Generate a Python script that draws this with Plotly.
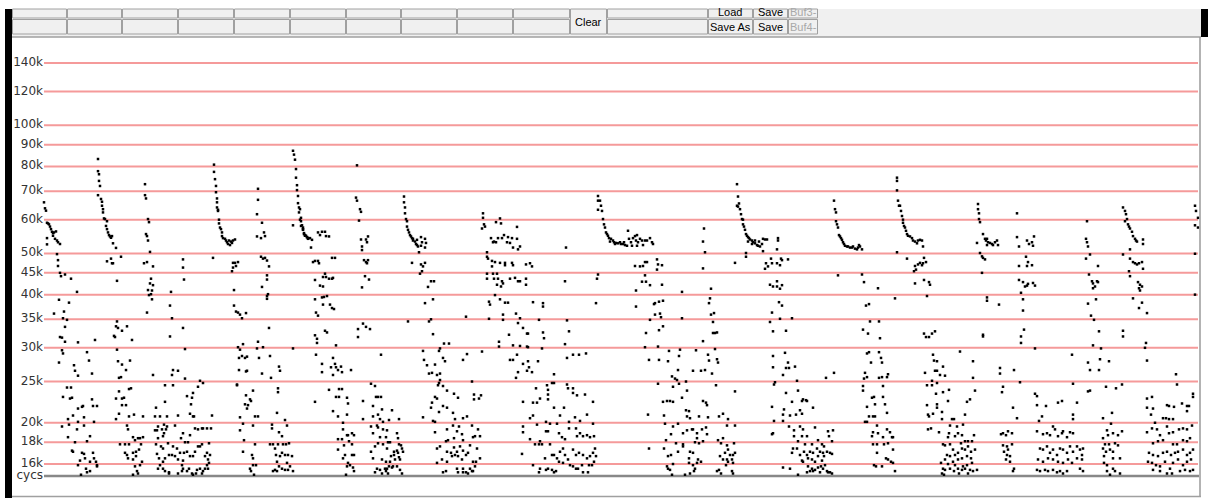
import plotly.graph_objects as go

# ---------------- data: (sample index, cycles in thousands) ----------------
burst01 = [(44,65.9),(45,63.8),(46,63.0),(47,59.0),(48,58.8),(49,58.5),(50,57.8),(51,57.0),(52,56.2),(53,55.8),(53,55.0),(54,56.0),(55,54.1),(56,56.3),(57,53.6),(58,53.1),(60,52.6),(47,54.3),(47,52.5),
 (57,49.8),(58,48.2),(58,46.7),(60,45.0),(61,44.2),(65,44.6),(71,43.6),(77,40.6),(59,38.9),(69,38.3),(54,36.1),(64,36.5),(63,35.2),(67,34.9),(65,33.6),(60,31.8),(62,31.7),(65,31.0),(78,30.9),(62,29.6),(63,29.1),(59,27.7),(74,27.3),(75,26.5),(78,25.8),(87,29.3),(89,28.0),(92,26.1),(95,31.3),
 (67,24.2),(71,24.2),(63,23.0),(70,22.8),(72,22.9),(78,21.6),(82,21.8),(83,21.9),(73,20.8),(68,20.4),(69,19.8),(78,20.1),(84,20.6),(62,19.6),(77,19.3),(84,19.7),(68,18.5),(75,18.0),(87,18.1),(90,18.6),(92,22.7),(93,21.9),(97,21.9),(94,20.1),
 (72,17.2),(73,17.1),(82,17.0),(84,16.9),(93,17.0),(78,15.9),(80,16.3),(85,16.5),(90,16.2),(96,16.2),(97,15.8),(81,15.1),(86,15.6),(87,15.3),(90,15.4),(94,16.5),(97,15.9)]

burst02 = [(98,83.3),(98,78.0),(99,76.7),(99,74.0),(100,72.0),(98,68.5),(101,67.1),(102,66.1),(102,64.7),(103,63.5),(103,62.4),(104,60.4),(105,60.2),(107,59.5),(106,58.0),(107,57.0),(108,56.0),(109,55.2),(110,54.8),(111,54.4),(112,54.9),(113,52.8),(116,51.5),
 (107,47.9),(111,48.6),(112,47.4),(113,47.4),(121,49.1),(117,43.1),(117,34.6),(116,33.7),(118,33.4),(114,32.0),(115,31.8),(122,32.9),(127,33.7),(132,31.3),(117,29.7),(118,27.9),(122,27.4),(126,26.6),(130,28.0),(121,25.6),(119,25.5),
 (116,22.8),(122,22.8),(124,22.9),(119,23.7),(129,24.0),(131,24.1),(122,22.0),(126,22.0),(119,21.0),(116,20.4),(129,20.7),(134,20.9),(127,19.7),(128,19.3),(133,18.5),(135,18.2),(138,18.4),(140,18.4),(143,18.5),(120,17.8),(125,17.8),(129,17.8),
 (125,17.0),(127,16.8),(128,16.5),(133,17.0),(136,17.1),(139,17.3),(141,17.8),(133,16.4),(136,16.7),(142,16.2),(135,15.8),(140,15.9),(133,15.1),(137,15.4),(138,15.2),(143,20.7)]

burst03 = [(145,72.7),(145,68.5),(146,67.3),(148,60.2),(149,59.2),(146,55.5),(147,54.9),(148,53.6),(150,50.4),(144,47.4),(147,47.7),(153,46.6),(151,43.6),(150,42.5),(153,42.1),(148,41.0),(152,40.9),(149,39.9),(151,40.1),(152,39.0),(147,36.3),(153,25.9),
 (155,20.7),(156,21.7),(160,20.7),(158,19.6),(164,19.8),(165,22.4),(167,20.7),(155,19.2),(157,19.2),(162,19.3),(163,18.6),(164,18.9),(166,19.3),(167,19.6),(158,18.4),(161,17.6),(156,17.8),(157,16.9),(159,16.5),(163,17.4),(168,17.9),(169,16.8),
 (163,16.2),(165,16.5),(160,15.9),(158,15.6),(163,15.6),(165,15.4),(169,15.2),(172,16.8),
 (171,40.6),(170,37.7),(172,35.2),(170,31.9),(172,25.9),(173,26.6),(178,26.5),(165,24.5),(173,24.5),(183,48.4),(183,46.3),(184,43.4),(183,33.4),(185,29.8),(185,25.4),(187,23.1),(192,22.9),(193,23.5),(191,22.1),(190,21.0),(193,20.7),(194,20.7),(198,24.3),(200,25.1),(203,24.8),
 (175,19.7),(178,20.8),(181,18.4),(183,18.9),(185,18.0),(188,18.0),(190,18.7),(173,17.6),(177,17.4),(180,17.0),(184,17.0),(187,17.1),(190,16.7),(193,16.7),(195,17.1),(198,17.6),(200,17.6),(202,17.8),
 (175,16.7),(178,16.4),(182,15.9),(183,16.3),(187,15.4),(189,15.6),(192,15.2),(193,15.1),(196,15.2),(197,15.5),(200,15.6),(202,15.2),(203,15.4),(205,15.6),(207,15.9),(208,16.4),(210,16.8),(209,16.1),(178,15.2),(182,15.4),(183,15.6),(169,15.3),
 (195,19.4),(198,19.3),(202,19.4),(203,19.4),(207,19.4),(212,20.8),(211,19.4),(205,16.7),(207,17.0),(209,17.9),(208,15.6)]

burst04 = [(214,80.8),(214,77.7),(215,74.7),(216,72.0),(216,69.6),(217,67.3),(217,65.9),(217,64.1),(218,63.3),(218,62.9),(219,60.0),(219,58.8),(220,57.5),(221,57.0),(222,56.0),(222,54.9),(223,54.3),(225,54.1),(226,53.6),(227,53.1),(228,52.6),(230,52.3),(232,52.9),(233,53.6),(235,53.9),(229,53.6),(231,53.3),
 (213,48.8),(233,47.5),(235,47.5),(238,47.7),(233,46.3),(236,46.7),(232,45.4),(234,41.0),(234,37.7),(236,36.5),(238,36.3),(240,35.9),(242,35.2),(246,36.2),(238,30.1),(240,29.7),(243,30.6),(239,28.4),(242,28.7),(245,28.4),(247,28.6),(239,26.6),(247,26.5),(246,26.4),
 (237,24.6),(237,24.5),(246,23.2),(250,22.7),(251,22.5),(245,22.1),(248,22.0),(253,23.8),(247,21.6),(240,20.6),(243,19.9),(240,19.2),(244,18.2),(255,20.7),(258,20.7),(253,19.7),(255,17.8),(243,17.1),(252,16.8),(253,16.5),(253,15.9),(256,15.9),(250,15.6),(251,15.4),(254,15.1),
 (258,70.9),(258,66.8),(257,61.8),(262,59.0),(257,54.8),(261,54.3),(264,56.0),(265,54.9),(261,49.1),(263,48.6),(265,48.8),(267,48.1),(269,46.6),(267,44.4),(267,43.4),(262,41.7),(268,40.1),(267,39.7),(267,39.1),(269,33.4),(258,31.0),(263,30.1),(257,29.9),(259,28.4),(262,26.1),(270,28.7),(271,25.5),(279,27.1),(280,26.5),
 (278,24.1),(278,23.6),(277,21.1),(272,19.8),(272,19.4),(279,19.0),(282,18.6),(285,20.3),(287,19.7),(270,17.8),(273,17.8),(275,17.4),(278,17.8),(283,17.8),(286,17.8),(289,17.9),(276,16.8),(280,16.7),(282,17.0),(285,16.8),(288,16.8),(292,16.7),
 (277,16.2),(279,15.8),(282,15.6),(287,16.1),(290,15.8),(273,15.4),(275,15.5),(277,15.4),(285,15.5),(288,15.5),(293,15.4)]

burst05 = [(293,87.1),(294,85.3),(295,83.0),(296,78.9),(296,75.3),(297,72.3),(297,70.4),(298,68.2),(298,65.6),(299,64.1),(299,62.4),(301,60.6),(301,59.5),(302,58.2),(303,57.5),(303,56.8),(304,55.8),(305,55.2),(306,55.0),(307,54.6),(308,54.3),(293,58.2),(293,29.9),
 (300,63.5),(300,60.0),(301,58.0),(303,57.0),(304,55.5),(305,55.0),(307,54.6),(308,54.1),(310,54.3),(312,53.8),(311,51.6),(318,56.0),(320,55.2),(322,56.2),(325,56.2),(326,54.9),(329,54.8),
 (313,47.7),(315,48.0),(318,48.0),(319,47.4),(332,48.8),(335,48.8),(315,43.3),(320,42.0),(323,41.8),(325,44.8),(323,44.0),(326,44.0),(329,43.6),(332,43.6),(333,43.8),(315,39.0),(322,39.4),(324,39.5),(327,39.7),(323,37.9),(330,37.9),(332,37.2),(334,37.0),(316,36.3),(318,35.7),
 (315,32.1),(317,31.5),(317,30.8),(325,32.9),(327,32.6),(336,30.4),(316,28.9),(322,27.5),(322,26.3),(333,28.4),(335,27.5),(336,27.0),(331,27.0),(333,25.9),(338,26.6),(341,27.1),(342,26.3),(351,26.6),
 (315,22.4),(329,23.9),(336,23.0),(339,24.0),(342,24.0),(339,23.0),(347,22.9),(348,22.2),(333,21.3),(338,20.7),(347,20.9),(343,20.0),(343,19.3),(347,18.7),(338,18.3),(342,18.3),(348,18.7),(352,18.9),(354,18.7),(349,18.1),(352,17.8),(344,17.7),(338,17.3),
 (343,16.5),(345,16.8),(352,16.8),(354,16.8),(348,16.1),(350,15.9),(347,15.8),(353,15.7),(346,15.1),(354,15.4)]

burst06 = [(357,80.5),(356,67.6),(357,66.5),(360,63.5),(361,62.6),(359,59.7),(361,53.9),(366,53.9),(368,54.8),(362,51.9),(362,50.9),(367,53.1),(364,48.2),(366,47.7),(368,48.2),(367,47.4),(365,44.2),(369,43.4),(362,41.6),(363,34.2),(366,33.6),(358,33.2),(370,33.2),(358,31.8),(381,28.9),
 (371,24.7),(375,24.4),(363,22.5),(376,23.0),(378,23.0),(381,23.0),(373,21.9),(382,21.5),(373,20.7),(378,20.9),(380,20.4),(363,20.4),(383,20.1),(392,21.4),(389,20.3),(399,20.4),(371,19.6),(377,19.7),(378,19.5),(383,19.3),(387,19.2),(373,18.9),(380,18.5),(386,18.5),(397,18.9),(398,18.4),
 (378,17.9),(388,18.0),(390,18.0),(399,17.8),(401,17.7),(371,17.1),(375,17.6),(383,17.8),(387,17.4),(394,17.1),(397,17.2),(402,17.4),(403,17.1),(391,16.7),(394,16.8),(398,17.0),(399,16.6),(373,16.5),(382,16.4),(386,16.2),(390,16.2),(395,16.4),(400,16.4),
 (377,15.6),(380,15.5),(375,15.3),(382,15.2),(386,15.4),(387,15.6),(389,15.8),(392,15.7),(393,15.8),(397,15.8),(400,15.5),(402,15.2),(388,15.2),(385,15.6)]

burst07 = [(404,68.0),(404,65.9),(405,64.1),(405,62.1),(406,60.2),(407,59.5),(407,57.8),(408,56.8),(409,56.0),(410,55.2),(411,54.8),(412,54.3),(413,53.6),(413,54.1),(415,53.3),(416,52.6),(417,52.3),(418,51.9),(421,54.6),(421,52.1),(417,53.8),(419,50.3),(422,53.1),(425,54.1),(426,52.9),(425,51.6),
 (412,47.5),(421,47.1),(422,45.4),(423,46.6),(425,47.5),(420,44.8),(428,41.7),(431,43.0),(434,43.0),(425,38.2),(433,39.0),(408,34.6),(429,34.6),(431,35.0),(433,32.3),(423,29.5),(424,28.1),(427,27.3),(429,26.1),(432,26.2),(435,27.4),(437,25.9),(440,25.2),(440,26.1),(439,29.5),(440,29.9),(444,30.7),(449,30.7),(443,28.4),(445,27.9),
 (438,24.5),(439,24.8),(443,24.4),(447,23.8),(454,23.4),(458,22.9),(435,23.0),(437,22.8),(432,22.3),(443,21.9),(439,21.2),(447,21.7),(431,21.7),(423,20.6),(433,20.2),(435,20.1),(453,21.1),(455,20.4),(463,20.5),(467,20.7),
 (435,19.0),(447,19.3),(453,19.7),(459,19.6),(457,19.1),(462,18.8),(472,19.7),(446,18.1),(448,18.2),(454,18.4),(463,18.2),(473,18.5),(475,18.6),(480,18.6),(478,19.3),
 (437,17.4),(440,17.6),(447,17.1),(451,17.0),(454,17.5),(457,17.1),(460,17.6),(463,17.2),(468,17.0),(470,17.7),(477,17.4),(442,16.4),(447,16.2),(452,16.7),(455,16.8),(458,16.7),(462,16.4),(466,16.8),(473,16.2),(476,16.2),(480,16.5),
 (437,16.1),(457,15.6),(463,15.6),(466,15.3),(470,15.6),(472,15.4),(475,15.8),(443,15.3),(446,15.4),(458,15.3),(468,15.2),(473,15.4),(463,15.3),
 (466,35.5),(463,28.1),(467,29.0),(472,25.0),(474,23.3),(474,22.7),(479,22.8),(481,23.2),(482,29.4)]

burst08 = [(483,62.1),(483,60.6),(484,58.5),(482,57.2),(485,57.8),(496,59.2),(500,60.4),(501,58.8),(517,57.7),(491,54.3),(493,53.1),(494,53.3),(496,53.1),(498,54.3),(502,54.3),(504,55.2),(508,54.6),(512,54.3),(517,54.1),(507,53.1),(510,52.9),(513,51.6),(518,51.1),(520,51.9),
 (487,50.3),(487,49.1),(488,48.6),(492,48.0),(492,46.6),(495,47.7),(500,47.5),(505,47.5),(505,46.9),(512,47.5),(513,46.9),(526,47.1),(530,47.4),(532,46.6),(487,44.8),(487,43.6),(493,44.8),(497,44.8),(494,43.6),(498,43.6),(502,43.0),(503,42.5),(497,42.2),(501,41.8),(510,43.6),(515,43.8),(518,43.0),(520,43.0),(526,43.6),(526,42.2),
 (495,39.9),(489,38.5),(490,37.9),(500,39.0),(505,38.3),(508,38.3),(533,38.4),(543,38.2),(543,37.5),(503,35.9),(503,34.9),(489,35.1),(516,36.1),(518,34.3),(520,35.2),(523,33.4),(509,32.2),(527,32.4),(528,32.4),(499,31.0),(499,30.2),(513,30.4),(520,30.3),(527,30.2),(528,30.1),
 (539,34.9),(543,32.6),(544,31.6),(542,29.9),(510,28.1),(513,28.1),(517,28.9),(523,27.5),(528,27.9),(529,27.0),(532,26.3),(527,26.5),(538,27.9),(518,26.3),(516,25.5),(554,26.0),
 (566,51.6),(565,43.0),(567,34.8),(569,32.8),(565,30.6),(567,28.4),(573,28.9),(579,28.9),(586,29.1),
 (523,22.4),(533,22.3),(537,22.3),(536,24.1),(540,22.8),(547,24.5),(548,23.9),(548,23.3),(552,24.8),(554,24.8),(548,22.7),(530,20.5),(533,20.8),(523,19.6),(523,19.0),(537,19.8),(546,20.1),(550,19.9),(554,21.7),(560,20.8),(564,21.7),
 (567,24.6),(568,24.1),(573,24.1),(573,23.5),(577,23.2),(585,23.3),(569,20.1),(575,20.6),(580,20.2),(587,20.9),(593,19.9),(593,22.4),
 (530,18.3),(535,17.8),(540,18.1),(542,17.8),(546,19.1),(548,19.1),(550,17.8),(557,19.9),(559,18.9),(562,18.5),(565,18.3),(569,19.4),(576,19.4),(577,18.6),(580,18.9),(583,18.6),(587,18.7),(590,18.5),(594,18.6),
 (522,16.9),(539,17.8),(545,16.5),(552,16.8),(554,16.8),(557,16.5),(560,17.1),(563,17.4),(565,16.8),(573,17.3),(576,16.8),(579,17.0),(583,16.8),(587,16.5),(590,16.7),(593,17.0),(595,17.4),
 (533,15.9),(540,15.6),(539,15.3),(546,15.5),(548,15.6),(552,15.5),(554,15.3),(556,15.4),(559,16.2),(563,16.1),(568,16.4),(573,15.8),(576,15.6),(578,15.6),(582,15.9),(583,15.3),(588,15.3),(589,15.9),(592,15.9),(594,16.2),(596,16.7),(570,15.9),
 (598,68.2),(598,66.5),(598,63.3),(598,44.6),(597,43.6),(596,38.2)]

burst09 = [(600,66.5),(601,64.7),(602,62.9),(603,60.2),(604,58.5),(605,57.5),(606,56.0),(607,55.5),(608,55.0),(609,54.3),(611,54.1),(613,53.6),(614,53.1),(616,52.9),(618,52.8),(621,52.6),(623,52.6),(625,52.3),(627,52.1),(628,56.5),(629,54.1),(631,53.1),(632,52.1),(633,54.3),(635,54.9),(636,53.6),(637,55.2),(638,53.1),(640,54.1),(642,53.6),(643,52.3),(645,53.6),(647,53.6),(650,54.3),(652,53.1),(653,52.6),(637,52.1),(610,53.3),(615,52.6),(620,53.1),(624,53.1),
 (635,46.7),(640,46.6),(643,46.7),(645,47.7),(647,47.7),(657,48.4),(658,47.1),(662,46.9),(657,45.8),(645,44.4),(642,42.9),(646,42.9),(650,42.1),(662,42.2),(636,40.9),(636,37.5),(654,38.0),(655,38.2),(659,38.5),(663,38.7),(655,35.9),(660,36.1),(661,35.4),(650,34.9),(663,33.7),(659,33.0),(682,40.6),(682,35.2),
 (646,32.5),(645,30.1),(649,28.1),(658,30.2),(659,28.1),(669,29.5),(668,27.9),(680,29.7),(679,28.7),(678,26.6),(672,25.7),(675,25.4),(677,25.2),(673,24.3),(679,24.7),(686,25.0),(658,24.7),(687,23.8),(682,22.9),(663,22.4),(667,22.5),(670,22.5),(673,22.4),
 (686,21.4),(689,21.3),(687,20.7),(648,20.9),(664,20.8),(690,20.5),(678,19.9),(673,19.6),(665,19.9),(687,19.2),(692,19.3),(693,19.3),(697,18.9),(671,18.8),(683,18.9),(697,18.4),(666,18.2),(676,17.9),(683,17.8),(695,18.0),(699,17.9),
 (678,17.1),(690,17.1),(664,17.4),(683,17.6),(693,17.0),(668,16.7),(671,16.8),(649,17.4),(689,16.5),(698,16.4),(697,16.1),(701,16.2),(673,16.0),(667,15.8),(668,15.6),(670,15.5),(689,16.1),(693,15.9),(695,15.6),(694,15.4),(672,15.1),(685,15.1),(690,15.2)]

burst10 = [(704,57.2),(703,53.3),(705,50.3),(703,46.1),(711,41.3),(710,39.2),(709,38.2),(711,35.9),(714,36.2),(713,34.5),(713,32.5),(715,32.5),(717,32.6),(703,31.1),(696,29.6),(715,29.8),(708,28.9),(709,28.0),(717,28.2),(718,27.7),(712,26.1),(701,26.5),(705,26.6),(693,26.5),(716,24.5),
 (703,22.5),(706,22.3),(707,22.0),(708,20.6),(699,20.7),(719,20.7),(723,21.0),(728,20.4),(706,19.5),(702,19.3),(707,18.8),(703,18.1),(727,19.7),(735,19.7),(718,18.2),(723,18.4),(721,17.9),(727,17.7),(734,17.9),
 (725,17.0),(728,17.3),(730,16.8),(733,16.8),(735,17.0),(720,16.7),(723,16.4),(727,16.4),(728,16.2),(732,16.4),(726,15.9),(733,16.1),(719,15.5),(717,15.4),(721,15.2),(732,15.4),(733,15.2),(735,23.7),
 (735,47.5),(737,72.7),(738,68.0),(737,64.7),(738,64.4),(739,65.5),(740,63.5),(741,61.8),(742,60.2),(743,60.0),(743,58.5),(744,57.8),(745,56.8),(746,55.5),(747,55.0),(748,54.6),(749,54.3),(750,53.9),(752,53.6),(753,53.1),(755,52.8),(757,52.3),(758,52.1),(760,51.9),(762,52.6),(763,54.1),(765,53.9),(767,53.9),(763,50.6),(746,50.1),(746,49.1),(748,53.3),(752,52.6),(755,53.6),(759,53.3),(778,54.3),(778,53.6),(777,51.1),
 (765,46.0),(766,47.4),(768,46.6),(771,48.6),(772,47.4),(777,47.4),(781,48.6),(780,46.9),(782,48.2),(788,48.4),(770,42.2),(773,41.8),(777,43.0),(777,41.8),(780,41.3),(782,42.1),(779,38.4),(782,37.7),(772,36.3),(770,34.5),(780,35.1),(792,35.2),(773,32.8),(786,32.9),
 (785,29.2),(788,27.7),(789,26.9),(786,26.9),(795,27.1),(773,28.7),(773,27.0),(783,25.9),(775,24.9),(774,24.6),(797,25.1),(798,23.8),(786,23.5),(792,22.4),(772,21.8),(784,21.5),(783,20.9),(790,20.8),(796,20.9),(802,22.5),(803,22.7),(806,22.6),(800,21.4),(802,21.0),(807,22.5),(813,21.7),
 (774,20.2),(772,18.8),(773,18.9),(783,20.2),(789,19.6),(794,19.2),(800,19.6),(803,19.3),(794,18.6),(798,18.1),(802,18.6),(807,18.6),(812,17.8),(815,19.5),(818,18.2),(822,17.8),(824,17.6),(828,19.1),(833,19.2),(829,18.6),(832,18.1),(805,17.8),
 (792,17.0),(793,17.4),(797,17.4),(800,16.8),(802,16.3),(804,17.1),(807,16.8),(810,17.1),(813,17.0),(817,17.4),(820,17.1),(823,17.0),(824,16.7),(827,17.1),(830,17.0),(832,16.9),(808,16.5),(812,16.4),(815,16.2),(818,16.7),(822,16.3),
 (803,16.2),(808,15.8),(812,15.6),(815,15.5),(818,15.7),(821,15.8),(823,15.6),(825,15.9),(827,15.4),(830,15.3),(832,15.2),(807,15.3),(810,15.4),(813,15.4),(783,15.7),(790,15.6),(798,15.1),(820,15.3),(828,15.3),(826,25.5),(834,26.2)]

burst11 = [(834,66.5),(835,63.5),(836,62.4),(836,59.5),(837,58.5),(838,57.5),(839,55.2),(840,54.8),(841,54.3),(842,53.8),(843,53.1),(844,52.6),(845,52.1),(847,51.9),(848,51.9),(850,51.6),(852,51.6),(853,51.9),(855,51.3),(857,51.1),(858,51.6),(860,51.9),(862,51.1),(859,52.3),
 (838,44.4),(862,44.6),(864,42.8),(878,41.4),(866,37.7),(869,38.0),(870,34.6),(879,34.6),(863,33.1),(868,32.4),(880,31.6),(869,29.3),(867,29.1),(879,29.3),(881,28.4),(871,27.7),(882,27.7),(865,26.2),(867,25.6),(864,25.4),(863,24.4),(863,23.8),(879,25.5),(882,25.6),(887,25.6),(888,26.0),(883,24.4),
 (872,22.9),(874,23.0),(875,22.1),(867,21.8),(869,20.7),(873,20.7),(875,20.7),(883,23.0),(885,22.1),(887,21.1),(865,20.1),(867,20.1),(873,19.0),(872,18.6),(877,19.7),(878,18.9),(883,18.5),(887,19.3),(890,19.0),(892,18.5),(893,18.5),(888,17.9),(873,17.8),(877,17.8),(884,17.8),
 (893,17.3),(877,17.0),(886,16.5),(888,16.4),(891,16.2),(893,16.1),(874,15.9),(876,15.8),(882,15.8),(895,15.4),
 (897,75.3),(897,74.0),(897,70.3),(898,66.5),(899,64.7),(897,50.3),(895,39.2),
 (900,64.7),(901,62.9),(902,61.2),(903,60.0),(903,59.0),(904,58.0),(905,57.5),(906,56.5),(907,55.5),(908,55.0),(910,54.8),(912,54.3),(913,53.6),(915,53.3),(917,52.8),(918,53.6),(920,53.8),(922,53.6),(923,51.9),
 (907,48.6),(915,46.7),(916,45.8),(918,47.1),(920,47.5),(922,46.9),(923,47.4),(924,48.8),(926,47.7),(914,45.4),(915,42.5),(924,43.3),(929,42.8),(930,42.2),(927,39.7),(924,32.4),(926,31.8),(929,31.8),(932,32.4),(935,32.8),
 (933,28.9),(934,28.0),(937,27.9),(935,26.5),(937,26.5),(943,27.1),(940,25.9),(945,25.8),(925,26.2),(932,25.1),(927,24.5),(932,24.5),(937,24.8),(960,29.4),(973,27.9),(973,25.5),(936,23.4),(943,23.6),(949,23.9),(975,23.8),(948,22.5),(970,22.7),(967,22.4),
 (927,22.0),(937,22.1),(937,21.7),(942,21.2),(928,20.9),(933,21.0),(929,20.7),(942,20.4),(952,20.4),(954,20.4),(965,20.9),(928,19.3),(931,19.4),(939,19.0),(950,19.7),(957,19.6),(963,19.8),(949,18.9),(948,18.5),(955,18.6),(958,18.9),(962,18.7),(974,18.7),
 (943,17.8),(945,17.7),(950,17.8),(961,17.9),(965,18.1),(968,18.1),(972,18.1),(953,17.3),(955,16.8),(958,17.0),(962,17.4),(965,17.3),(968,17.6),(971,17.1),(975,17.3),(947,16.8),(950,16.7),(945,16.4),(953,16.2),(958,16.4),(962,16.5),(967,16.7),(971,16.5),
 (941,16.1),(948,16.0),(955,15.9),(958,15.6),(963,15.8),(967,15.9),(972,16.1),(943,15.6),(945,15.5),(950,15.6),(954,15.4),(959,15.2),(962,15.5),(965,15.6),(970,15.5),(973,15.4),(977,15.5),(942,15.2),(944,15.1),(968,15.2)]

burst12 = [(978,65.3),(978,63.5),(979,62.1),(979,60.2),(980,59.2),(977,52.9),(983,55.5),(985,54.1),(986,53.6),(987,54.1),(988,53.1),(990,52.9),(992,52.6),(993,52.3),(995,53.1),(997,53.6),(998,52.3),(987,52.3),(980,50.1),(982,49.2),(983,48.8),(985,48.4),(982,45.0),(987,39.4),(987,38.7),(999,37.9),(983,32.2),(983,31.9),
 (1000,26.9),(1000,26.1),(1014,26.6),(1003,24.3),(1002,23.6),(1020,24.9),(1013,21.7),(1017,20.5),(1001,18.8),(1003,18.9),(1006,18.7),(1008,19.1),(1012,18.9),(1003,17.7),(1007,17.6),(1008,17.3),(1012,17.8),(1004,17.1),(1007,16.8),(1010,16.7),(1006,16.4),(1010,16.2),(1014,15.6),(1013,15.4),
 (1017,62.1),(1017,54.6),(1019,51.9),(1027,53.6),(1029,52.6),(1032,53.1),(1033,52.1),(1034,54.8),(1026,49.1),(1028,47.7),(1032,46.9),(1027,46.7),(1019,46.7),(1019,43.3),(1023,42.8),(1025,41.8),(1027,42.0),(1028,42.4),(1033,42.6),(1035,42.0),(1021,40.4),(1023,39.0),(1023,36.7),(1024,33.1),(1021,31.9),(1021,30.8),(1035,29.9),
 (1035,23.4),(1037,23.1),(1037,22.0),(1046,21.9),(1042,20.7),(1039,20.2),(1037,19.1),(1043,18.8),(1047,18.9),(1050,18.7),(1053,19.6),(1055,19.3),(1058,18.6),(1062,18.9),(1063,19.1),(1067,18.5),(1070,19.0),(1073,18.9),
 (1040,17.4),(1043,17.3),(1047,17.6),(1050,17.0),(1053,17.3),(1057,16.8),(1060,17.4),(1063,17.3),(1067,17.0),(1070,17.6),(1073,17.1),(1077,17.6),(1080,17.3),(1082,16.8),(1083,17.4),
 (1038,16.4),(1043,16.2),(1048,16.5),(1053,16.4),(1058,16.2),(1063,16.1),(1068,16.4),(1072,16.1),(1077,16.5),(1082,16.4),(1037,15.5),(1040,15.4),(1045,15.5),(1048,15.4),(1053,15.5),(1057,15.3),(1060,15.4),(1063,15.2),(1067,15.4),(1080,15.6),(1083,15.4),
 (1058,22.3),(1062,22.5),(1072,28.9),(1073,24.7),(1077,22.3),(1073,20.9),(1073,20.4)]

burst13 = [(1087,59.5),(1086,54.1),(1087,53.1),(1088,51.9),(1090,49.7),(1086,48.6),(1098,46.7),(1089,44.6),(1092,43.0),(1093,42.5),(1095,41.8),(1097,43.0),(1098,42.8),(1093,41.4),(1088,38.1),(1096,39.0),(1091,35.7),(1094,34.9),(1099,32.8),(1093,30.4),(1101,29.9),(1088,27.7),(1090,26.6),(1100,28.2),(1099,26.6),(1109,27.9),
 (1088,23.7),(1090,23.8),(1106,24.3),(1116,24.1),(1122,24.6),(1103,20.5),(1112,21.1),(1111,19.9),(1107,19.2),(1108,18.7),(1113,18.9),(1118,18.7),(1122,19.1),(1103,18.4),(1105,17.8),(1109,17.8),(1115,17.9),(1118,17.7),(1103,17.4),(1106,17.1),(1110,17.3),(1113,17.1),
 (1104,16.7),(1113,16.5),(1120,16.5),(1104,16.1),(1107,15.9),(1113,15.6),(1115,15.4),(1107,15.4),(1120,15.2),(1110,15.1),
 (1123,64.1),(1125,62.9),(1126,61.8),(1127,60.2),(1125,59.5),(1128,58.5),(1129,57.8),(1130,57.2),(1132,56.2),(1133,54.9),(1135,54.1),(1136,53.6),(1137,53.3),(1143,53.9),(1143,52.6),(1130,51.1),(1123,49.7),(1130,48.6),(1133,47.7),(1135,47.4),(1137,47.1),(1139,47.4),(1142,47.7),(1143,46.0),
 (1129,45.4),(1130,44.2),(1138,42.8),(1140,42.2),(1139,41.4),(1142,41.8),(1140,40.9),(1133,39.2),(1142,38.3),(1139,37.2),(1147,36.2),(1123,32.9),(1123,31.9),(1146,30.8),(1145,30.0),(1147,28.0),(1176,26.0),(1177,24.6),
 (1147,22.8),(1152,23.0),(1147,21.7),(1153,21.6),(1151,20.9),(1167,22.0),(1169,21.9),(1174,21.8),(1182,22.2),(1187,21.9),(1189,21.9),(1187,21.3),(1193,23.4),(1193,23.0),(1155,20.0),(1163,20.5),(1166,20.5),(1169,20.4),(1173,20.4),
 (1147,19.0),(1152,19.4),(1157,19.3),(1160,18.7),(1167,19.6),(1169,18.9),(1173,19.0),(1179,19.3),(1183,19.4),(1187,19.3),(1192,19.7),(1153,17.9),(1158,18.1),(1163,18.2),(1173,17.8),(1177,17.8),(1183,18.2),(1187,18.1),(1190,18.4),
 (1149,17.0),(1153,16.8),(1158,16.7),(1163,17.0),(1167,17.1),(1171,16.8),(1175,17.0),(1178,17.1),(1183,17.3),(1187,16.8),(1190,17.0),(1193,17.3),(1148,16.2),(1152,16.1),(1156,15.9),(1160,15.8),(1165,16.2),(1170,15.6),(1173,16.1),(1178,16.4),(1183,15.9),(1187,16.2),(1191,16.4),
 (1153,15.5),(1160,15.4),(1167,15.2),(1172,15.2),(1180,15.4),(1185,15.5),(1190,15.4),(1193,15.5),
 (1195,64.7),(1196,62.9),(1198,60.6),(1195,58.2),(1198,57.5),(1195,49.9),(1195,40.0)]

bursts = [burst01, burst02, burst03, burst04, burst05, burst06, burst07,
          burst08, burst09, burst10, burst11, burst12, burst13]

grid_levels = [140, 120, 100, 90, 80, 70, 60, 50, 45, 40, 35, 30, 25, 20, 18, 16]
grid_labels = ["140k", "120k", "100k", "90k", "80k", "70k", "60k", "50k", "45k",
               "40k", "35k", "30k", "25k", "20k", "18k", "16k"]
base_level = 15
base_label = "cycs"

# ---------------- page geometry (pixels) ----------------
W, H = 1208, 498
X_LEFT, X_RIGHT = 44, 1198


def py(p):
    return 1 - p / H


fig = go.Figure()

# grid lines
gx, gy = [], []
for v in grid_levels:
    gx += [X_LEFT, X_RIGHT, None]
    gy += [v, v, None]
fig.add_trace(go.Scatter(x=gx, y=gy, mode="lines", line=dict(color="#f59a9a", width=2),
                         hoverinfo="skip", showlegend=False))
fig.add_trace(go.Scatter(x=[X_LEFT, X_RIGHT + 1], y=[base_level, base_level], mode="lines",
                         line=dict(color="#888888", width=2.5), hoverinfo="skip", showlegend=False))

# labels
fig.add_trace(go.Scatter(x=[X_LEFT - 1] * (len(grid_levels) + 1), y=grid_levels + [base_level],
                         mode="text", text=grid_labels + [base_label], textposition="middle left",
                         textfont=dict(family="DejaVu Sans", size=12, color="#333333"),
                         hoverinfo="skip", showlegend=False))

# data points
for b in bursts:
    fig.add_trace(go.Scatter(x=[p[0] for p in b], y=[p[1] for p in b], mode="markers",
                             marker=dict(symbol="square", size=2.5, color="black", line=dict(width=0)),
                             hoverinfo="skip", showlegend=False))

shapes = []


def rect(x0, x1, y0, y1, fill, line=None, lw=1):
    shapes.append(dict(type="rect", xref="x", yref="paper", x0=x0, x1=x1, y0=py(y1), y1=py(y0),
                       fillcolor=fill, line=dict(color=line or fill, width=lw if line else 0),
                       layer="above"))


def hline(x0, x1, y, color, w=1):
    shapes.append(dict(type="line", xref="x", yref="paper", x0=x0, x1=x1, y0=py(y), y1=py(y),
                       line=dict(color=color, width=w), layer="above"))


def vline(x, y0, y1, color, w=1):
    shapes.append(dict(type="line", xref="x", yref="paper", x0=x, x1=x, y0=py(y0), y1=py(y1),
                       line=dict(color=color, width=w), layer="above"))


# toolbar
rect(12, 1201, 9, 37, "#f0f0f0")
edges = [12, 67, 122, 178, 234, 290, 346, 401, 457, 513, 570]
for a, b in zip(edges[:-1], edges[1:]):
    rect(a + 0.5, b - 0.5, 9, 18, "#f0f0f0", "#a0a0a0")
    rect(a + 0.5, b - 0.5, 19.5, 34, "#f0f0f0", "#a0a0a0")
rect(570.5, 606.5, 9, 34, "#f0f0f0", "#a0a0a0")
for a, b in [(607, 708), (708, 753), (753, 788), (788, 818)]:
    rect(a + 0.5, b - 0.5, 9, 18, "#f0f0f0", "#a0a0a0")
    rect(a + 0.5, b - 0.5, 19.5, 34, "#f0f0f0", "#a0a0a0")
hline(12, 1201, 37, "#a0a0a0", 1.5)
# frame
rect(5, 12, 9, 498, "#000000")
rect(1201, 1208, 9, 37, "#000000")
vline(1200, 37, 496, "#9a9a9a", 1.5)
hline(12, 1201, 496.5, "#a0a0a0", 1.5)

annotations = []


def label(x, y, text, color="#000000"):
    annotations.append(dict(x=x, y=py(y), xref="x", yref="paper", text=text, showarrow=False,
                            font=dict(family="Liberation Sans", size=11, color=color),
                            xanchor="center", yanchor="middle"))


label(588, 22, "Clear")
label(730, 12.5, "Load")
label(730, 27, "Save As")
label(770, 12.5, "Save")
label(770, 27, "Save")
label(803, 12.5, "Buf3-", "#a8a8a8")
label(803, 27, "Buf4-", "#a8a8a8")

fig.update_layout(
    width=W, height=H, margin=dict(l=0, r=0, t=0, b=0, pad=0),
    paper_bgcolor="white", plot_bgcolor="white",
    xaxis=dict(range=[0, W], visible=False, fixedrange=True),
    yaxis=dict(type="log", range=[1.1243, 2.2942], visible=False, fixedrange=True),
    shapes=shapes, annotations=annotations, showlegend=False,
)

fig.write_html("out.html", config={"displayModeBar": False, "staticPlot": True},
               post_script="document.body.style.margin='0';document.body.style.overflow='hidden';")
